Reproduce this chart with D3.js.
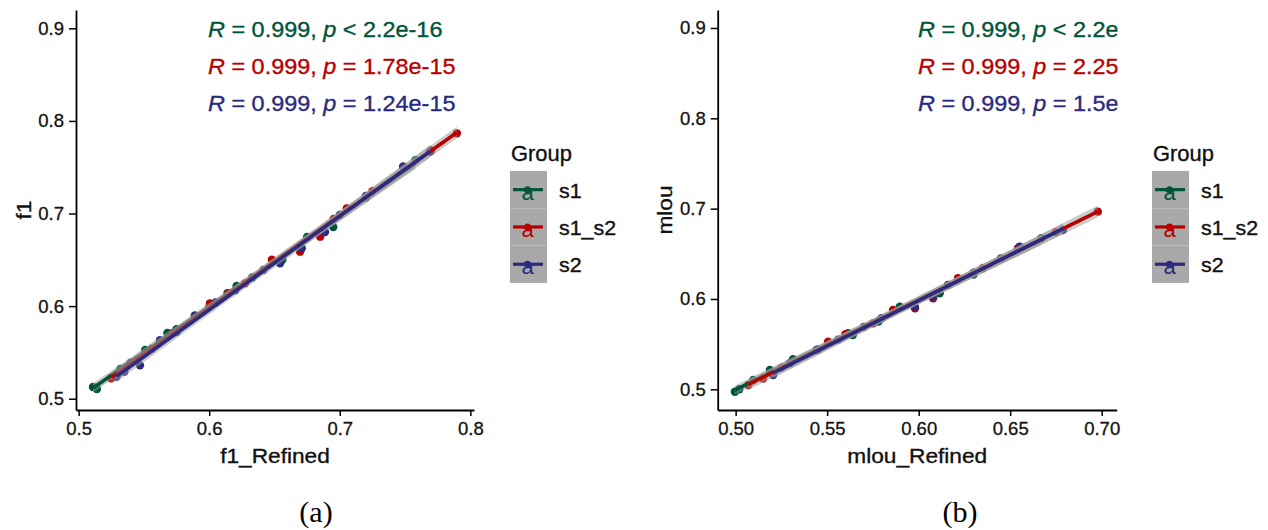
<!DOCTYPE html>
<html>
<head>
<meta charset="utf-8">
<script src="https://cdn.jsdelivr.net/npm/d3@7/dist/d3.min.js"></script>
<style>
  body { margin: 0; background: #fff; }
  svg { display: block; }
  text { font-family: "Liberation Sans", Arial, sans-serif; white-space: pre; }
</style>
</head>
<body>
<svg id="chart" width="1268" height="530"></svg>
<script>
// ---------------- DATA ----------------
const groups = ["s1", "s1_s2", "s2"];
const groupColors = ["#00543a", "#b80000", "#2b2a7e"];

// Panel (a): f1 vs f1_Refined
const f1Refined_s1 = [0.511, 0.514, 0.532, 0.540, 0.551, 0.568, 0.575, 0.589, 0.600, 0.614, 0.621, 0.633, 0.656, 0.675, 0.695, 0.720, 0.758];
const f1_s1        = [0.5126, 0.5105, 0.532, 0.539, 0.5526, 0.571, 0.575, 0.588, 0.599, 0.614, 0.6217, 0.631, 0.650, 0.6746, 0.6854, 0.717, 0.7577];
const f1Refined_s1s2 = [0.525, 0.530, 0.545, 0.556, 0.572, 0.590, 0.6006, 0.615, 0.6274, 0.648, 0.6696, 0.685, 0.6954, 0.7054, 0.725, 0.7485, 0.770, 0.7897];
const f1_s1s2        = [0.522, 0.527, 0.542, 0.554, 0.571, 0.589, 0.603, 0.614, 0.6246, 0.650, 0.6588, 0.675, 0.694, 0.7056, 0.724, 0.7505, 0.768, 0.7866];
const f1Refined_s2 = [0.529, 0.535, 0.547, 0.5623, 0.575, 0.589, 0.605, 0.620, 0.6415, 0.6543, 0.6709, 0.6887, 0.700, 0.720, 0.7487, 0.769];
const f1_s2        = [0.5238, 0.529, 0.536, 0.5632, 0.572, 0.590, 0.604, 0.617, 0.639, 0.6462, 0.6624, 0.680, 0.6984, 0.719, 0.7505, 0.7667];

// Panel (b): mlou vs mlou_Refined
const mlouRefined_s1 = [0.4996, 0.502, 0.5096, 0.5187, 0.5314, 0.545, 0.5615, 0.564, 0.578, 0.5897, 0.6115, 0.630, 0.645, 0.667];
const mlou_s1        = [0.4973, 0.500, 0.5103, 0.5214, 0.5332, 0.544, 0.562, 0.560, 0.575, 0.5915, 0.6063, 0.627, 0.645, 0.6672];
const mlouRefined_s1s2 = [0.5069, 0.515, 0.525, 0.5505, 0.560, 0.575, 0.586, 0.598, 0.6079, 0.6215, 0.635, 0.6543, 0.675, 0.6979];
const mlou_s1s2        = [0.5048, 0.512, 0.524, 0.5527, 0.561, 0.573, 0.5878, 0.5897, 0.6008, 0.6229, 0.634, 0.6561, 0.674, 0.6967];
const mlouRefined_s2 = [0.5205, 0.5296, 0.5442, 0.556, 0.570, 0.5797, 0.5979, 0.6077, 0.616, 0.630, 0.6552, 0.6788];
const mlou_s2        = [0.5158, 0.5288, 0.5435, 0.555, 0.569, 0.5786, 0.5915, 0.6025, 0.6155, 0.629, 0.658, 0.6764];

// Correlation labels
const corrR = ["0.999", "0.999", "0.999"];
const corrOpA = ["<", "=", "="];
const corrPA = ["2.2e-16", "1.78e-15", "1.24e-15"];
const corrOpB = ["<", "=", "="];
const corrPB = ["2.2e-16", "2.25e-15", "1.5e-15"];

// Ticks
const xTicksA = [0.5, 0.6, 0.7, 0.8];
const yTicksA = [0.5, 0.6, 0.7, 0.8, 0.9];
const xTicksB = [0.50, 0.55, 0.60, 0.65, 0.70];
const yTicksB = [0.5, 0.6, 0.7, 0.8, 0.9];

const legendTitle = "Group";
const captions = ["(a)", "(b)"];

// ---------------- DRAW ----------------
const svg = d3.select("#chart");
const FONT = '"Liberation Sans", Arial, sans-serif';

function linreg(xs, ys) {
  const n = xs.length;
  const mx = d3.mean(xs), my = d3.mean(ys);
  let sxx = 0, sxy = 0;
  for (let i = 0; i < n; i++) { sxx += (xs[i]-mx)**2; sxy += (xs[i]-mx)*(ys[i]-my); }
  const b = sxy / sxx, a = my - b * mx;
  let sse = 0;
  for (let i = 0; i < n; i++) sse += (ys[i] - (a + b*xs[i]))**2;
  const s = Math.sqrt(sse / (n - 2));
  return { a, b, mx, sxx, s, n };
}

// text helper with horizontal stretch
function stext(parent, x, y, sx, size, fill, anchor) {
  return parent.append("text")
    .attr("transform", `translate(${x},${y}) scale(${sx},1)`)
    .attr("text-anchor", anchor || "start")
    .attr("fill", fill).attr("stroke", fill).attr("stroke-width", 0.35)
    .style("font-size", size + "px");
}

function drawPanel(p) {
  const g = svg.append("g");
  const x = d3.scaleLinear().domain(p.xDomain).range(p.xRange);
  const y = d3.scaleLinear().domain(p.yDomain).range(p.yRange);

  const clipId = "clip" + p.id;
  svg.append("defs").append("clipPath").attr("id", clipId)
    .append("rect").attr("x", p.xRange[0]).attr("y", p.yRange[1])
    .attr("width", p.xRange[1] - p.xRange[0] + 1).attr("height", p.yRange[0] - p.yRange[1]);

  const plot = g.append("g").attr("clip-path", `url(#${clipId})`);

  // points
  p.series.forEach((s, i) => {
    plot.append("g").selectAll("circle").data(s.x.map((v, k) => [v, s.y[k]]))
      .join("circle")
      .attr("cx", d => x(d[0])).attr("cy", d => y(d[1]))
      .attr("r", 4.2).attr("fill", groupColors[i]);
  });

  // regression bands + lines
  p.series.forEach((s, i) => {
    const r = linreg(s.x, s.y);
    const t = 2.12;
    const x0 = d3.min(s.x), x1 = d3.max(s.x);
    const xs = d3.range(0, 81).map(k => x0 + (x1 - x0) * k / 80);
    const band = xs.map(xv => {
      const fit = r.a + r.b * xv;
      const se = r.s * Math.sqrt(1 / r.n + (xv - r.mx) ** 2 / r.sxx);
      return [xv, fit - t * se, fit + t * se, fit];
    });
    plot.append("path")
      .attr("d", d3.area().x(d => x(d[0])).y0(d => y(d[1]) + 2.5).y1(d => y(d[2]) - 2.5)(band))
      .attr("fill", "#999999").attr("fill-opacity", 0.5);
    plot.append("path")
      .attr("d", d3.line().x(d => x(d[0])).y(d => y(d[3]))(band))
      .attr("fill", "none").attr("stroke", groupColors[i]).attr("stroke-width", 3.6);
  });

  // axes
  const xAxis = g.append("g").attr("transform", `translate(0,${p.yRange[0]})`)
    .call(d3.axisBottom(x).tickValues(p.xTicks).tickFormat(d3.format(p.xFmt)).tickSize(6).tickSizeOuter(0).tickPadding(6));
  const yAxis = g.append("g").attr("transform", `translate(${p.xRange[0]},0)`)
    .call(d3.axisLeft(y).tickValues(p.yTicks).tickFormat(d3.format(".1f")).tickSize(7).tickSizeOuter(0).tickPadding(5));
  [xAxis, yAxis].forEach(ax => {
    ax.select(".domain").attr("stroke", "#000").attr("stroke-width", 1.8);
    ax.selectAll(".tick line").attr("stroke", "#000").attr("stroke-width", 1.5);
    ax.selectAll(".tick text").attr("fill", "#111").attr("stroke", "#111").attr("stroke-width", 0.3)
      .style("font-size", "18.5px").style("font-family", FONT);
  });

  // axis titles
  stext(g, (p.xRange[0] + p.xRange[1]) / 2, 463, 1.08, 21, "#111", "middle").text(p.xTitle);
  g.append("text").attr("transform", `translate(${p.yTitleX},${(p.yRange[0] + p.yRange[1]) / 2}) rotate(-90) scale(1.08,1)`)
    .attr("text-anchor", "middle").attr("fill", "#111").attr("stroke", "#111").attr("stroke-width", 0.35)
    .style("font-size", "21px").text(p.yTitle);

  // correlation annotation
  const ann = g.append("g").attr("clip-path", `url(#${clipId})`);
  [37, 74, 111].forEach((by, i) => {
    const t = stext(ann, p.annX, by, 1.065, 22, groupColors[i]);
    t.append("tspan").style("font-style", "italic").text("R");
    t.append("tspan").text(` = ${corrR[i]}, `);
    t.append("tspan").style("font-style", "italic").text("p");
    t.append("tspan").text(` ${p.ops[i]} ${p.pv[i]}`);
  });

  // legend
  const lg = g.append("g");
  stext(lg, p.legX + 1, 161, 1.02, 21.5, "#111").text(legendTitle);
  const keyTop = 171, keyH = 37.3, keyW = 37;
  groups.forEach((gr, i) => {
    const cy = keyTop + keyH * i + keyH / 2;
    lg.append("rect").attr("x", p.legX).attr("y", keyTop + keyH * i).attr("width", keyW).attr("height", keyH)
      .attr("fill", "#a9a9a9");
    lg.append("line").attr("x1", p.legX + 3).attr("x2", p.legX + keyW - 4).attr("y1", cy).attr("y2", cy)
      .attr("stroke", groupColors[i]).attr("stroke-width", 3.2);
    lg.append("circle").attr("cx", p.legX + keyW / 2 - 1).attr("cy", cy).attr("r", 3.5).attr("fill", groupColors[i]);
    lg.append("text").attr("x", p.legX + keyW / 2 - 1).attr("y", cy + 10).attr("text-anchor", "middle")
      .attr("fill", groupColors[i]).style("font-size", "22px").text("a");
    stext(lg, p.legX + 49, cy + 8, 1.07, 20, "#111").text(gr);
  });

  // caption
  g.append("text").attr("x", p.capX).attr("y", 522).attr("text-anchor", "middle")
    .style("font-family", '"Liberation Serif", "Times New Roman", serif').style("font-size", "30px")
    .attr("fill", "#000").text(p.caption);
}

drawPanel({
  id: "A",
  xDomain: [0.498, 0.8028], xRange: [76, 474],
  yDomain: [0.4878, 0.9198], yRange: [410, 10],
  xTicks: xTicksA, yTicks: yTicksA, xFmt: ".1f",
  series: [
    { x: f1Refined_s1, y: f1_s1 },
    { x: f1Refined_s1s2, y: f1_s1s2 },
    { x: f1Refined_s2, y: f1_s2 }
  ],
  xTitle: "f1_Refined", yTitle: "f1", yTitleX: 31,
  annX: 208, ops: corrOpA, pv: corrPA,
  legX: 510, caption: captions[0], capX: 316
});

drawPanel({
  id: "B",
  xDomain: [0.4902, 0.7082], xRange: [717.7, 1116.7],
  yDomain: [0.4771, 0.9199], yRange: [410, 10],
  xTicks: xTicksB, yTicks: yTicksB, xFmt: ".2f",
  series: [
    { x: mlouRefined_s1, y: mlou_s1 },
    { x: mlouRefined_s1s2, y: mlou_s1s2 },
    { x: mlouRefined_s2, y: mlou_s2 }
  ],
  xTitle: "mlou_Refined", yTitle: "mlou", yTitleX: 672,
  annX: 918, ops: corrOpB, pv: corrPB,
  legX: 1152, caption: captions[1], capX: 960
});
</script>
</body>
</html>
